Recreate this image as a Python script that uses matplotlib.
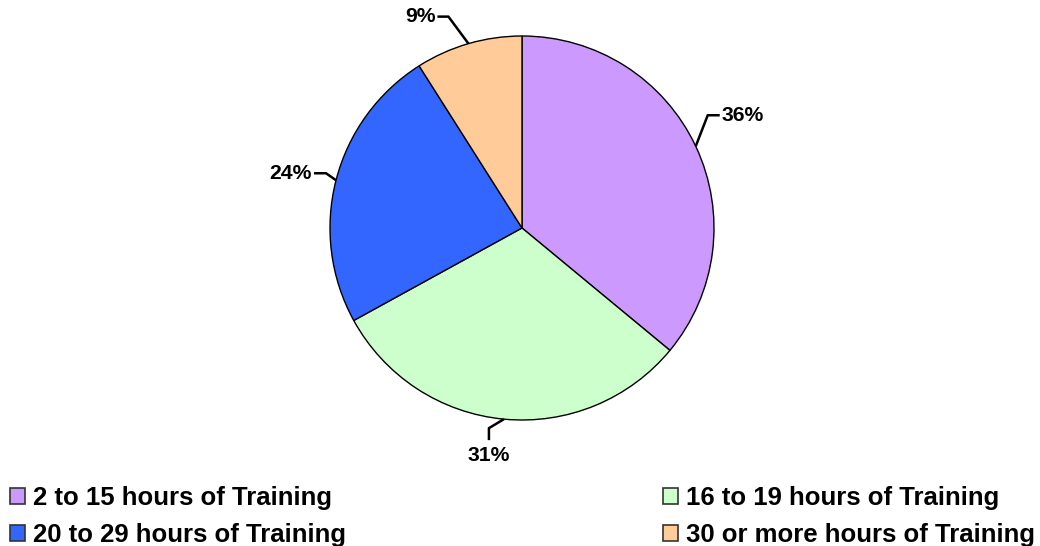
import numpy as np
import matplotlib.pyplot as plt
from matplotlib.patches import Patch

plt.rcParams['font.family'] = ['Liberation Sans', 'DejaVu Sans']

# data
labels = ['2 to 15 hours of Training', '16 to 19 hours of Training',
          '20 to 29 hours of Training', '30 or more hours of Training']
shares = [36, 31, 24, 9]
colors = ['#CC99FF', '#CCFFCC', '#3366FF', '#FFCC99']

W, H = 1040, 546
fig = plt.figure(figsize=(W / 100, H / 100), dpi=100)
ax = fig.add_axes([0, 0, 1, 1])

cx, cy, r = 522, 228, 192
wedges, _ = ax.pie(shares, colors=colors, startangle=-90, counterclock=True,
                   center=(cx, cy), radius=r,
                   wedgeprops=dict(edgecolor='black', linewidth=1.0))
ax.set_xlim(0, W)
ax.set_ylim(H, 0)
ax.set_aspect('equal')
ax.axis('off')

# leader line offsets (elbow, end) and text alignment, per slice
leaders = [
    ((12, -31), (24, -31), 'left', 'center', (2, 0)),
    ((-15, 9), (-15, 21), 'center', 'top', (0, 6)),
    ((-10, -7), (-22, -7), 'right', 'center', (-2, 0)),
    ((-20, -27), (-31, -27), 'right', 'center', (-2, 0)),
]
for w, s, (el, en, ha, va, toff) in zip(wedges, shares, leaders):
    mid = np.radians((w.theta1 + w.theta2) / 2)
    ex, ey = cx + r * np.cos(mid), cy + r * np.sin(mid)
    ax.plot([ex, ex + el[0], ex + en[0]], [ey, ey + el[1], ey + en[1]],
            color='black', lw=1.8, solid_capstyle='butt')
    ax.text(ex + en[0] + toff[0], ey + en[1] + toff[1], f'{s}%',
            ha=ha, va=va, fontsize=15.2, fontweight='bold')

handles = [Patch(facecolor=c, edgecolor='#333333', linewidth=1.2) for c in colors]
for idx, x0 in [((0, 2), 10), ((1, 3), 663)]:
    fig.legend([handles[i] for i in idx], [labels[i] for i in idx],
               loc='upper left', bbox_to_anchor=(x0 / W, (H - 486) / H),
               prop=dict(size=18.5, weight='bold'), frameon=False,
               handlelength=0.58, handleheight=0.58, handletextpad=0.33,
               labelspacing=0.52, borderpad=0, borderaxespad=0)

fig.savefig('out.png', dpi=100)
